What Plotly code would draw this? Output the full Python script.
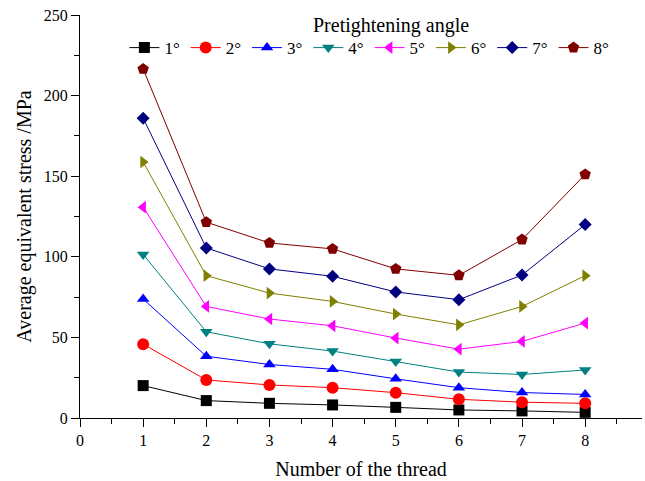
import plotly.graph_objects as go

threads = [1, 2, 3, 4, 5, 6, 7, 8]
angles = ["1°", "2°", "3°", "4°", "5°", "6°", "7°", "8°"]
s1 = [20.1, 10.8, 9.1, 8.1, 6.6, 5.0, 4.4, 3.5]
s2 = [45.8, 23.6, 20.5, 18.8, 15.7, 11.6, 9.8, 9.1]
s3 = [73.8, 38.3, 33.2, 30.2, 24.3, 18.8, 15.8, 14.6]
s4 = [101.5, 53.5, 46.0, 41.5, 35.0, 28.5, 27.0, 29.8]
s5 = [130.8, 69.2, 61.4, 57.2, 49.6, 42.7, 47.5, 58.9]
s6 = [158.8, 88.3, 77.5, 72.3, 64.5, 57.8, 69.2, 88.3]
s7 = [186.0, 105.5, 92.5, 87.9, 78.2, 73.4, 88.7, 120.0]
s8 = [216.5, 121.5, 108.6, 104.9, 92.5, 88.5, 110.7, 151.1]
series = [s1, s2, s3, s4, s5, s6, s7, s8]
colors = ["#000000", "#FF0000", "#0000FF", "#008080", "#FF00FF", "#808000", "#000080", "#800000"]
symbols = ["square", "circle", "triangle-up", "triangle-down", "triangle-left",
           "triangle-right", "diamond", "pentagon"]
sizes = [11, 12, 11, 11, 11, 11, 10, 12]

font = "Liberation Serif"

fig = go.Figure()
for name, ys, c, sym, sz in zip(angles, series, colors, symbols, sizes):
    fig.add_trace(go.Scatter(
        x=threads, y=ys, name=name, mode="lines+markers",
        line=dict(color=c, width=1),
        marker=dict(symbol=sym, color=c, size=sz, line=dict(width=0)),
    ))

axis_common = dict(
    showline=True, linecolor="black", linewidth=1,
    ticks="outside", ticklen=8, tickcolor="black", tickwidth=1,
    showgrid=False, zeroline=False, mirror=False,
    tickfont=dict(family=font, size=16, color="black"),
)

fig.update_layout(
    width=645, height=481,
    margin=dict(l=80, r=3, t=15, b=63),
    paper_bgcolor="white", plot_bgcolor="white",
    font=dict(family=font, size=17, color="black"),
    xaxis=dict(range=[0, 8.9], tickvals=list(range(0, 9)),
               minor=dict(ticks="outside", ticklen=5, tickcolor="black", dtick=0.5, tick0=0),
               title=dict(text="Number of the thread", font=dict(family=font, size=20), standoff=13),
               **axis_common),
    yaxis=dict(range=[0, 250], tick0=0, dtick=50,
               minor=dict(ticks="outside", ticklen=5, tickcolor="black", dtick=25, tick0=0),
               title=dict(text="Average equivalent stress /MPa", font=dict(family=font, size=20), standoff=6),
               **axis_common),
    legend=dict(
        orientation="h", x=0.079, xanchor="left", y=0.918, yanchor="middle",
        font=dict(family=font, size=17, color="black"), bgcolor="rgba(0,0,0,0)",
        itemwidth=30, tracegroupgap=0, entrywidth=16.3,
    ),
    annotations=[dict(text="Pretightening angle", x=0.553, y=0.973, xref="paper", yref="paper",
                      xanchor="center", yanchor="middle", showarrow=False,
                      font=dict(family=font, size=20, color="black"))],
    showlegend=True,
)

fig.write_html("out.html")
